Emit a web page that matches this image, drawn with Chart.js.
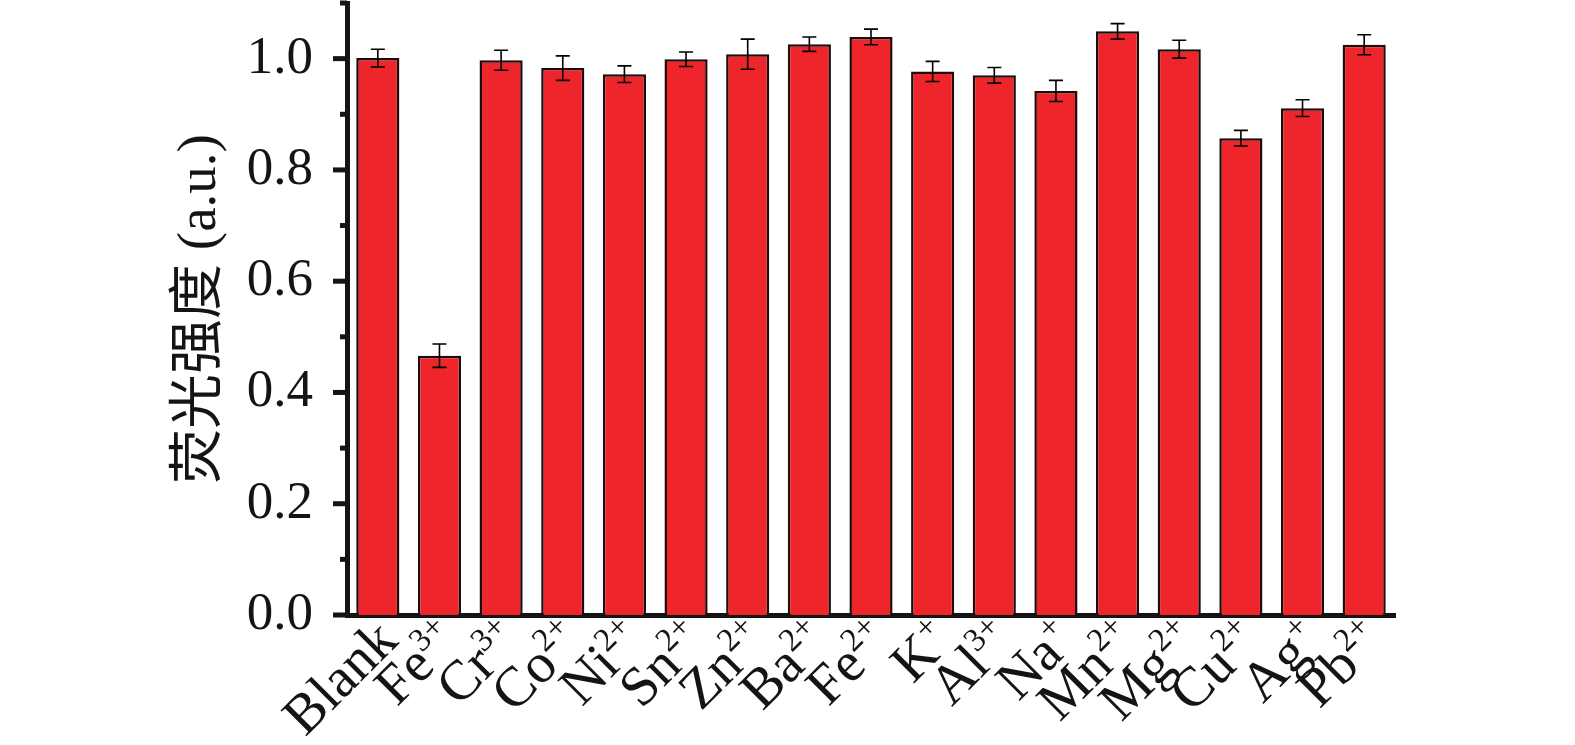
<!DOCTYPE html>
<html>
<head>
<meta charset="utf-8">
<script src="https://cdn.jsdelivr.net/npm/chart.js@4.4.1/dist/chart.umd.min.js"></script>
<style>
  html, body { margin: 0; padding: 0; background: #fff; }
  #wrap { width: 1575px; height: 745px; }
</style>
</head>
<body>
<div id="wrap"><canvas id="chart" width="1575" height="745"></canvas></div>
<script>
// ion names and their charges (drawn as superscripts)
const ions = ['Blank', 'Fe', 'Cr', 'Co', 'Ni', 'Sn', 'Zn', 'Ba', 'Fe', 'K', 'Al', 'Na', 'Mn', 'Mg', 'Cu', 'Ag', 'Pb'];
const charges = ['', '3+', '3+', '2+', '2+', '2+', '2+', '2+', '2+', '+', '3+', '+', '2+', '2+', '2+', '+', '2+'];

// relative fluorescence intensity and error (+/-)
const intensity = [1.001, 0.466, 0.997, 0.983, 0.972, 0.999, 1.008, 1.026, 1.039, 0.977, 0.970, 0.942, 1.049, 1.017, 0.857, 0.911, 1.025];
const errors = [0.016, 0.021, 0.018, 0.022, 0.015, 0.013, 0.027, 0.013, 0.014, 0.018, 0.014, 0.019, 0.014, 0.016, 0.014, 0.015, 0.018];

const majorTicks = [0.0, 0.2, 0.4, 0.6, 0.8, 1.0];
const minorTicks = [0.1, 0.3, 0.5, 0.7, 0.9, 1.1];
const yTitle = '荧光强度 (a.u.)';

const serif = '"Liberation Serif", "Times New Roman", "Noto Sans CJK SC", serif';
const ink = '#141414';

const errorBars = {
  id: 'errorBars',
  afterDatasetsDraw(chart) {
    const { ctx } = chart;
    const y = chart.scales.y;
    const meta = chart.getDatasetMeta(0);
    ctx.save();
    ctx.strokeStyle = '#000';
    ctx.lineWidth = 1.6;
    meta.data.forEach((bar, i) => {
      const top = y.getPixelForValue(intensity[i] + errors[i]);
      const bot = y.getPixelForValue(intensity[i] - errors[i]);
      const half = 7;
      ctx.beginPath();
      ctx.moveTo(bar.x, top); ctx.lineTo(bar.x, bot);
      ctx.moveTo(bar.x - half, top); ctx.lineTo(bar.x + half, top);
      ctx.moveTo(bar.x - half, bot); ctx.lineTo(bar.x + half, bot);
      ctx.stroke();
    });
    ctx.restore();
  },
};

// y tick marks (major + minor) and rotated x labels with superscript charges
const axisDecor = {
  id: 'axisDecor',
  afterDraw(chart) {
    const { ctx, chartArea } = chart;
    const y = chart.scales.y;
    const x = chart.scales.x;
    const ax = chartArea.left;
    ctx.save();
    ctx.fillStyle = ink;
    majorTicks.forEach((v) => {
      const py = y.getPixelForValue(v);
      ctx.fillRect(ax - 14, py - 2.5, 14, 5);
    });
    minorTicks.forEach((v) => {
      const py = y.getPixelForValue(v);
      ctx.fillRect(ax - 7, py - 2.5, 7, 5);
    });

    const base = y.getPixelForValue(0);
    ions.forEach((name, i) => {
      const cx = x.getPixelForTick(i);
      ctx.save();
      ctx.translate(cx + 22, base + 28);
      ctx.rotate(-Math.PI / 4);
      ctx.font = '56px ' + serif;
      const wm = ctx.measureText(name).width;
      ctx.font = '33px ' + serif;
      const ws = charges[i] ? ctx.measureText(charges[i]).width : 0;
      ctx.textBaseline = 'alphabetic';
      ctx.textAlign = 'left';
      ctx.font = '56px ' + serif;
      ctx.fillText(name, -(wm + ws), 0);
      if (charges[i]) {
        ctx.font = '33px ' + serif;
        ctx.fillText(charges[i], -ws, -21);
      }
      ctx.restore();
    });
    ctx.restore();
  },
};

new Chart(document.getElementById('chart'), {
  type: 'bar',
  data: {
    labels: ions.map((n, i) => n + charges[i]),
    datasets: [{
      data: intensity,
      backgroundColor: '#ee252b',
      borderColor: '#1e0b0b',
      borderWidth: 2.5,
      barPercentage: 0.7,
      categoryPercentage: 1.0,
    }],
  },
  options: {
    responsive: false,
    animation: false,
    devicePixelRatio: 1,
    layout: { padding: { left: 160, top: 3, right: 180, bottom: 0 } },
    plugins: { legend: { display: false }, tooltip: { enabled: false } },
    scales: {
      x: {
        grid: { display: false, drawTicks: false },
        border: { display: true, color: ink, width: 5 },
        ticks: { display: false },
        afterFit(scale) {
          scale.height = 745 - 615;
          scale.paddingLeft = 0; scale.paddingRight = 0;
        },
      },
      y: {
        min: 0,
        max: 1.1,
        afterBuildTicks(scale) {
          scale.ticks = majorTicks.map((v) => ({ value: v }));
        },
        grid: { display: false, drawTicks: false },
        border: { display: true, color: ink, width: 5 },
        ticks: {
          color: ink,
          padding: 34,
          font: { family: serif, size: 53 },
          callback: (v) => v.toFixed(1),
        },
        title: {
          display: true,
          text: yTitle,
          color: ink,
          padding: { top: 8, bottom: 0 },
          font: { family: serif, size: 55, weight: 'normal' },
        },
        afterFit(scale) {
          scale.width = 347 - 160;
          scale.paddingTop = 0; scale.paddingBottom = 0;
        },
      },
    },
  },
  plugins: [errorBars, axisDecor],
});
</script>
</body>
</html>
